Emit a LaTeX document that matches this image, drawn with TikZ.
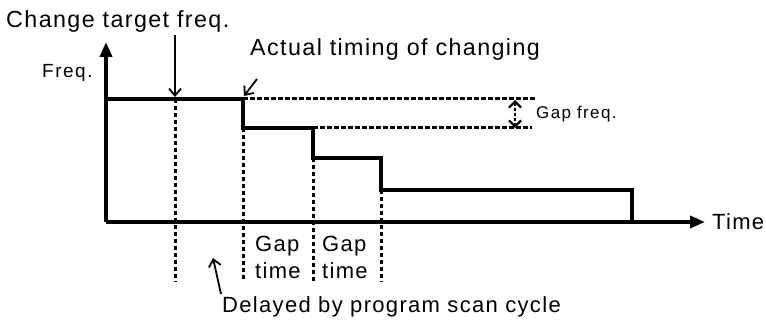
\documentclass[tikz,border=0pt]{standalone}
\usepackage{fontspec}
\setmainfont{Liberation Sans}[LetterSpace=6]
\usetikzlibrary{arrows.meta}
\begin{document}
\begin{tikzpicture}[x=1pt,y=-1pt,
  axis/.style={line width=3.5pt,-{Triangle[length=15pt,width=12pt]}},
  sig/.style={line width=3.5pt,line join=miter},
  guide/.style={line width=3pt,dash pattern=on 4.5pt off 2.5pt},
  pointer/.style={line width=1.8pt,-{Straight Barb[length=7pt,width=12pt]}},
  big/.style={inner sep=0pt,anchor=base west,font=\fontsize{22}{26}\selectfont},
  bigger/.style={inner sep=0pt,anchor=base west,font=\fontsize{23.3}{27}\selectfont},
  mid/.style={inner sep=0pt,anchor=base west,font=\fontsize{19}{22}\selectfont\addfontfeature{LetterSpace=8}},
  small/.style={inner sep=0pt,anchor=base west,font=\fontsize{17}{20}\selectfont\addfontfeature{LetterSpace=8}}]
\useasboundingbox (0,0) rectangle (766,320);
% coordinates
\coordinate (O) at (106,222);
\coordinate (Ytip) at (106,42);
\coordinate (Xtip) at (705,222);
\coordinate (s0) at (106,99);
\coordinate (s1) at (243,99);
\coordinate (s2) at (243,128);
\coordinate (s3) at (313,128);
\coordinate (s4) at (313,158);
\coordinate (s5) at (381,158);
\coordinate (s6) at (381,190);
\coordinate (s7) at (632,190);
\coordinate (s8) at (632,222);
\coordinate (c1) at (175,99);
\coordinate (c1b) at (175,282);
\coordinate (b2) at (243,282);
\coordinate (b3) at (313,282);
\coordinate (b4) at (381,282);
\coordinate (hu) at (535,99);
\coordinate (hl) at (532,128);
\coordinate (gu) at (515,100);
\coordinate (gl) at (515,128);
\coordinate (ca) at (175,35);
\coordinate (cb) at (175,97);
\coordinate (aa) at (257,79);
\coordinate (ab) at (244,96);
\coordinate (da) at (221,294);
\coordinate (db) at (213,258);
% axes
\draw[axis] (O) -- (Ytip);
\draw[axis] (O) -- (Xtip);
% signal
\draw[sig] (s0) -- (s1) -- (s2) -- (s3) -- (s4) -- (s5) -- (s6) -- (s7) -- (s8);
% guides
\draw[guide] (c1) -- (c1b);
\draw[guide] (s2) -- (b2);
\draw[guide] (s4) -- (b3);
\draw[guide] (s6) -- (b4);
\draw[guide] (s1) -- (hu);
\draw[guide] (s3) -- (hl);
\draw[guide,line width=2.2pt,{Straight Barb[length=6pt,width=12pt]}-{Straight Barb[length=6pt,width=12pt]},dash pattern=on 3pt off 2pt] (gu) -- (gl);
% pointers
\draw[pointer] (ca) -- (cb);
\draw[pointer] (aa) -- (ab);
\draw[pointer] (da) -- (db);
% labels
\node[bigger] (tchange) at (6,28) {Change target freq.};
\node[bigger] (tactual) at (250,56) {Actual timing of changing};
\node[mid] (tfreq) at (42,78) {Freq.};
\node[small] (tgapf) at (536,119) {Gap freq.};
\node[big] (tg1) at (255,252) {Gap};
\node[big] (tt1) at (255,279) {time};
\node[big] (tg2) at (322,252) {Gap};
\node[big] (tt2) at (322,279) {time};
\node[big] (tdel) at (222,313) {Delayed by program scan cycle};
\node[big] (ttime) at (712,230) {Time};
\end{tikzpicture}
\end{document}
